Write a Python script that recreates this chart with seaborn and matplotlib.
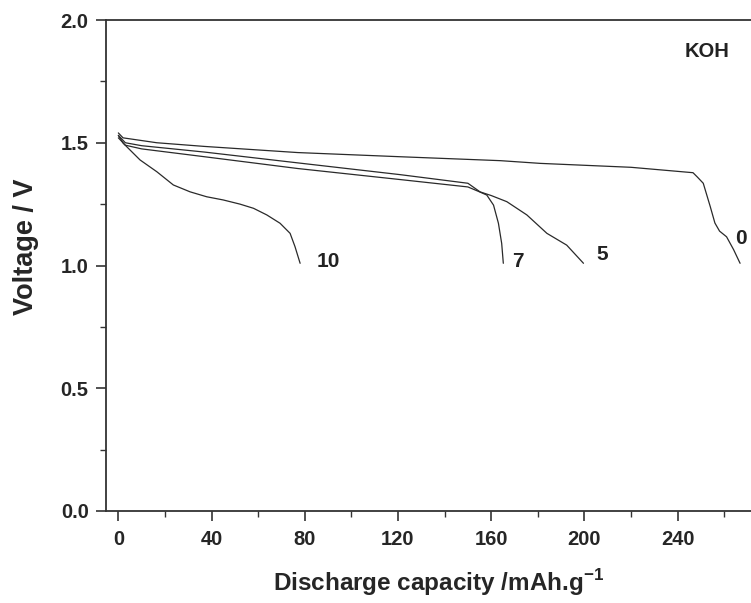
import matplotlib
matplotlib.use("Agg")
import matplotlib.pyplot as plt
import matplotlib.ticker as mticker
import seaborn as sns

# discharge curves (capacity mAh/g, voltage V)
cap_0 = [0, 2, 16.5, 37, 77, 121, 164, 181, 220, 246.6, 248.5, 251, 254, 256, 258, 261, 264, 266.8]
volt_0 = [1.54, 1.52, 1.50, 1.485, 1.46, 1.443, 1.427, 1.416, 1.40, 1.378, 1.36, 1.335, 1.24, 1.173, 1.14, 1.117, 1.065, 1.009]

cap_5 = [0, 3, 10, 37, 77, 121, 150, 155.2, 160, 166.7, 175.3, 183.9, 192.4, 199.6]
volt_5 = [1.53, 1.50, 1.488, 1.462, 1.418, 1.37, 1.335, 1.30, 1.285, 1.26, 1.206, 1.131, 1.083, 1.009]

cap_7 = [0, 3, 10, 37, 77, 121, 150, 155, 158.1, 161, 163.1, 164.5, 165.2]
volt_7 = [1.52, 1.49, 1.475, 1.443, 1.395, 1.35, 1.32, 1.30, 1.287, 1.246, 1.172, 1.09, 1.009]

cap_10 = [0, 2.1, 9.3, 16.5, 23.6, 30.8, 37.9, 45, 52.2, 58, 63.7, 69.4, 73.7, 75.8, 78]
volt_10 = [1.53, 1.498, 1.43, 1.382, 1.328, 1.30, 1.28, 1.267, 1.25, 1.233, 1.206, 1.172, 1.131, 1.077, 1.009]

curve_labels = ["0", "5", "7", "10"]
label_pos = [(264.7, 1.11), (205, 1.043), (168.8, 1.016), (85, 1.016)]

x_ticks = [0, 40, 80, 120, 160, 200, 240]

sns.set_style("ticks")
plt.rcParams["font.family"] = ["Liberation Sans", "DejaVu Sans"]
plt.rcParams["font.weight"] = "bold"
plt.rcParams["mathtext.fontset"] = "custom"
plt.rcParams["mathtext.bf"] = "Liberation Sans:bold"
plt.rcParams["mathtext.rm"] = "Liberation Sans:bold"

fig = plt.figure(figsize=(7.51, 6.03), dpi=100)
# axes run past the right edge of the picture, as in the cropped original
ax = fig.add_axes([106 / 751, 92 / 603, 666 / 751, 491 / 603])

for cap, volt in [(cap_0, volt_0), (cap_5, volt_5), (cap_7, volt_7), (cap_10, volt_10)]:
    sns.lineplot(x=cap, y=volt, ax=ax, color="#2a2a2a", linewidth=0.9, sort=False, estimator=None)

for lab, (x, y) in zip(curve_labels, label_pos):
    ax.text(x, y, lab, fontsize=15, fontweight="bold", ha="left", va="center", color="#222222")

ax.text(252.6, 1.87, "KOH", fontsize=14.5, fontweight="bold", ha="center", va="center", color="#222222")

ax.set_xlim(-5.3, 280.5)
ax.set_ylim(0, 2.0)
ax.set_xticks(x_ticks)
ax.xaxis.set_minor_locator(mticker.MultipleLocator(20))
ax.yaxis.set_major_locator(mticker.MultipleLocator(0.5))
ax.yaxis.set_minor_locator(mticker.MultipleLocator(0.25))
ax.yaxis.set_major_formatter(mticker.FormatStrFormatter("%.1f"))

ax.tick_params(which="major", direction="out", length=7, width=1.2, labelsize=14.5, color="#333333")
ax.tick_params(axis="x", which="major", pad=7)
ax.tick_params(axis="y", which="major", pad=5.5)
ax.tick_params(which="minor", direction="out", length=4, width=1.0, color="#333333")
for lbl in ax.get_xticklabels() + ax.get_yticklabels():
    lbl.set_fontweight("bold")

for side in ["left", "bottom", "top", "right"]:
    ax.spines[side].set_linewidth(1.3)
    ax.spines[side].set_color("#333333")

ax.set_xlabel("Discharge capacity /mAh.g$^{-1}$", fontsize=17.5, fontweight="bold")
ax.set_ylabel("Voltage / V", fontsize=19.5, fontweight="bold")
ax.xaxis.set_label_coords(0.5, -0.114)
ax.yaxis.set_label_coords(-0.10, 0.538)

fig.savefig("out.png", dpi=100)
